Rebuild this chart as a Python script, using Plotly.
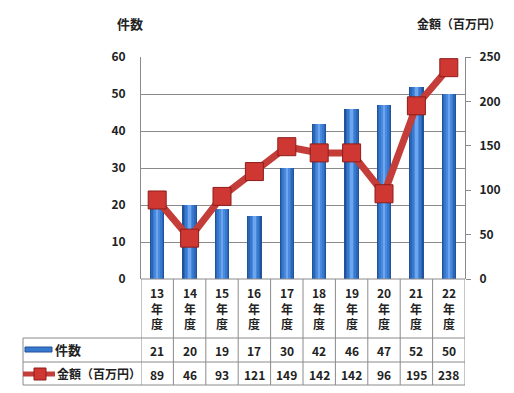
import plotly.graph_objects as go

years = ["13", "14", "15", "16", "17", "18", "19", "20", "21", "22"]
categories = [y + "年度" for y in years]
counts = [21, 20, 19, 17, 30, 42, 46, 47, 52, 50]
amounts = [89, 46, 93, 121, 149, 142, 142, 96, 195, 238]
left_title = "件数"
right_title = "金額（百万円）"

O = 8  # page body margin
W, H = 514 - O, 393 - O
L, R, T, B = 141, 465, 57, 279   # plot area in page pixels
PW, PH = R - L, B - T

def py(p):  # page pixel y -> paper y
    return (B - p) / PH

def px(p):  # page pixel x -> paper x
    return (p - L) / PW

FONT = "Noto Sans CJK JP"
fig = go.Figure()

# gradient-like bars (layered)
layers = [(0.44, "#22539a"), (0.37, "#2c66b6"), (0.28, "#3679cf"), (0.17, "#4a8ade"), (0.07, "#6ea6ee")]
for w, c in layers:
    fig.add_trace(go.Bar(x=categories, y=counts, width=w, marker=dict(color=c, line=dict(width=0)),
                         yaxis="y", showlegend=False, hoverinfo="skip"))

fig.add_trace(go.Scatter(x=categories, y=amounts, yaxis="y2", mode="lines+markers",
                         line=dict(color="#c43d38", width=7),
                         marker=dict(symbol="square", size=18, color="#cf3732",
                                     line=dict(color="#8e1d1a", width=1)),
                         showlegend=False))

fig.update_layout(
    width=W, height=H, margin=dict(l=L - O, r=514 - R, t=T - O, b=393 - B),
    paper_bgcolor="white", plot_bgcolor="white",
    barmode="overlay", bargap=0,
    font=dict(family=FONT, size=11, color="#222"),
    xaxis=dict(type="category", range=[-0.5, 9.5], showticklabels=False, showgrid=False,
               showline=False, zeroline=False, ticks=""),
    yaxis=dict(range=[0, 60], dtick=10, showgrid=True, gridcolor="#8a8a8a", gridwidth=1,
               showline=True, linecolor="#8a8a8a", zeroline=False, ticks="",
               ticklabelstandoff=12, tickfont=dict(family=FONT, size=12, weight="bold")),
    yaxis2=dict(range=[0, 250], dtick=50, overlaying="y", side="right", showgrid=False,
                showline=True, linecolor="#8a8a8a", zeroline=False, ticks="outside",
                ticklen=5, tickcolor="#8a8a8a", ticklabelstandoff=6,
                tickfont=dict(family=FONT, size=12, weight="bold")),
)

shapes = []
lc = dict(color="#8a8a8a", width=1)
shapes.append(dict(type="line", xref="paper", yref="paper", x0=0, x1=1, y0=0, y1=0, line=lc))
for yy in [338, 362, 385]:
    shapes.append(dict(type="line", xref="paper", yref="paper", x0=px(23), x1=1, y0=py(yy), y1=py(yy), line=lc))
for i in range(len(categories) + 1):
    shapes.append(dict(type="line", xref="x", yref="paper", x0=i - 0.5, x1=i - 0.5,
                       y0=0, y1=py(385), line=lc))
shapes.append(dict(type="line", xref="paper", yref="paper", x0=px(23), x1=px(23),
                   y0=py(338), y1=py(385), line=lc))
# legend swatches
shapes.append(dict(type="rect", xref="paper", yref="paper", x0=px(25), x1=px(52),
                   y0=py(352), y1=py(347), fillcolor="#3679cf", line=dict(color="#22539a", width=1)))
shapes.append(dict(type="line", xref="paper", yref="paper", x0=px(23), x1=px(55),
                   y0=py(374), y1=py(374), line=dict(color="#c43d38", width=5)))
shapes.append(dict(type="rect", xref="paper", yref="paper", x0=px(34), x1=px(46),
                   y0=py(380), y1=py(368), fillcolor="#cf3732", line=dict(color="#8e1d1a", width=1)))
fig.update_layout(shapes=shapes)

ann = []
bold = dict(family=FONT, size=12, color="#222", weight="bold")
big = dict(family=FONT, size=13, color="#222", weight="bold")
def A(**kw):
    d = dict(showarrow=False, xanchor="center", yanchor="middle", yref="paper")
    d.update(kw)
    ann.append(d)

for i, cat in enumerate(categories):
    A(x=cat, xref="x", y=py(308), text="<br>".join([years[i], "年", "度"]), font=bold, align="center")
    A(x=cat, xref="x", y=py(350), text=str(counts[i]), font=bold)
    A(x=cat, xref="x", y=py(374), text=str(amounts[i]), font=bold)
A(x=px(53), xref="paper", y=py(349), text=left_title, xanchor="left", font=big)
A(x=px(55), xref="paper", y=py(373), text=right_title, xanchor="left", font=bold)
A(x=px(130), xref="paper", y=py(23), text=left_title, font=big)
A(x=px(459), xref="paper", y=py(23), text=right_title, font=bold)
fig.update_layout(annotations=ann)

fig.write_html("out.html")
